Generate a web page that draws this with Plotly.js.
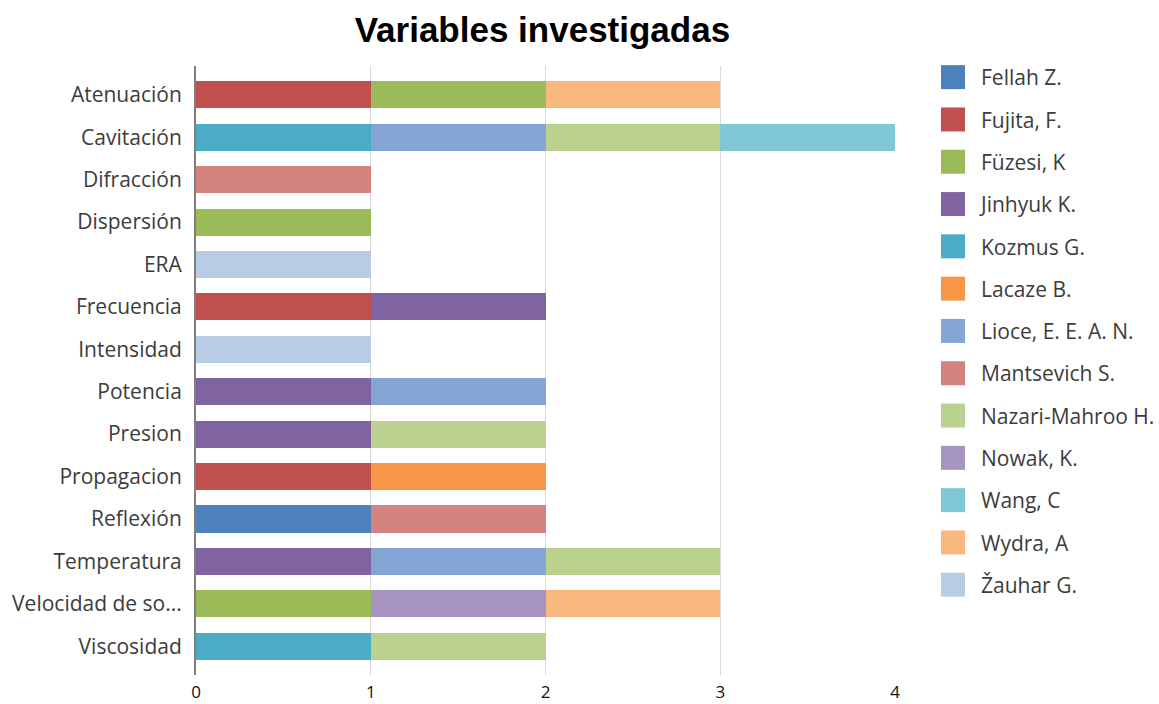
<!DOCTYPE html>
<html>
<head>
<meta charset="utf-8">
<script src="https://cdn.plot.ly/plotly-3.0.1.min.js"></script>
<style>html,body{margin:0;padding:0;background:#fff;}#chart{width:1159px;height:704px;}</style>
</head>
<body>
<div id="chart"></div>
<script>
const categories = ["Atenuación","Cavitación","Difracción","Dispersión","ERA","Frecuencia","Intensidad","Potencia","Presion","Propagacion","Reflexión","Temperatura","Velocidad de so...","Viscosidad"];
const seriesNames = ["Fellah Z.","Fujita, F.","Füzesi, K","Jinhyuk K.","Kozmus G.","Lacaze B.","Lioce, E. E. A. N.","Mantsevich S.","Nazari-Mahroo H.","Nowak, K.","Wang, C","Wydra, A","Žauhar G."];
const fellah     = [null,null,null,null,null,null,null,null,null,null,1,null,null,null];
const fujita     = [1,null,null,null,null,1,null,null,null,1,null,null,null,null];
const fuzesi     = [1,null,null,1,null,null,null,null,null,null,null,null,1,null];
const jinhyuk    = [null,null,null,null,null,1,null,1,1,null,null,1,null,null];
const kozmus     = [null,1,null,null,null,null,null,null,null,null,null,null,null,1];
const lacaze     = [null,null,null,null,null,null,null,null,null,1,null,null,null,null];
const lioce      = [null,1,null,null,null,null,null,1,null,null,null,1,null,null];
const mantsevich = [null,null,1,null,null,null,null,null,null,null,1,null,null,null];
const nazari     = [null,1,null,null,null,null,null,null,1,null,null,1,null,1];
const nowak      = [null,null,null,null,null,null,null,null,null,null,null,null,1,null];
const wang       = [null,1,null,null,null,null,null,null,null,null,null,null,null,null];
const wydra      = [1,null,null,null,null,null,null,null,null,null,null,null,1,null];
const zauhar     = [null,null,null,null,1,null,1,null,null,null,null,null,null,null];
const xTicks = [0,1,2,3,4];

const seriesValues = [fellah,fujita,fuzesi,jinhyuk,kozmus,lacaze,lioce,mantsevich,nazari,nowak,wang,wydra,zauhar];
const colors = ["#4F81BD","#C0504D","#9BBB59","#8064A2","#4BACC6","#F79646","#82A5D3","#D4837F","#BCD190","#A794C1","#7FC6D7","#F9B880","#B8CCE4"];

const traces = seriesNames.map((name,i)=>({
  type:'bar', orientation:'h', name:name,
  y:categories, x:seriesValues[i],
  marker:{color:colors[i], line:{width:0}},
  legendgroup:'g'+i
}));

const txt = '#3c3c3c';
const layout = {
  width:1159, height:704,
  barmode:'stack', bargap:0.36,
  paper_bgcolor:'#fff', plot_bgcolor:'#fff',
  margin:{l:196, r:264, t:66, b:29},
  title:{text:'<b>Variables investigadas</b>', x:0.468, xanchor:'center', y:0.958, yanchor:'middle',
         font:{family:'Liberation Sans, Arial, sans-serif', size:35, color:'#000'}},
  font:{family:'Open Sans, sans-serif', size:21, color:txt},
  xaxis:{range:[0,4], tickvals:xTicks, showgrid:true, gridcolor:'#D9D9D9', gridwidth:1,
         zeroline:false, showline:false, ticks:'', ticklabelstandoff:5,
         tickfont:{size:17,color:'#111'}, fixedrange:true},
  yaxis:{type:'category', range:[13.68,-0.68], showgrid:false, zeroline:false,
         showline:true, linecolor:'#808080', linewidth:2, ticks:'', ticklabelstandoff:8,
         tickfont:{size:21,color:txt}, fixedrange:true},
  showlegend:true,
  legend:{x:941/1159, xanchor:'left', xref:'container', y:1-57/704, yanchor:'top', yref:'container',
          traceorder:'grouped', tracegroupgap:12, maxheight:680,
          font:{size:21,color:txt}, itemclick:false, bgcolor:'rgba(0,0,0,0)'}
};
Plotly.newPlot('chart', traces, layout, {displayModeBar:false, staticPlot:true}).then(()=>{
  document.querySelectorAll('.legend .legendpoints path').forEach(p=>{
    p.setAttribute('d','M12.5,12H-12.5V-12H12.5Z');
    p.setAttribute('transform','translate(11.5,0)');
  });
});
</script>
</body>
</html>
